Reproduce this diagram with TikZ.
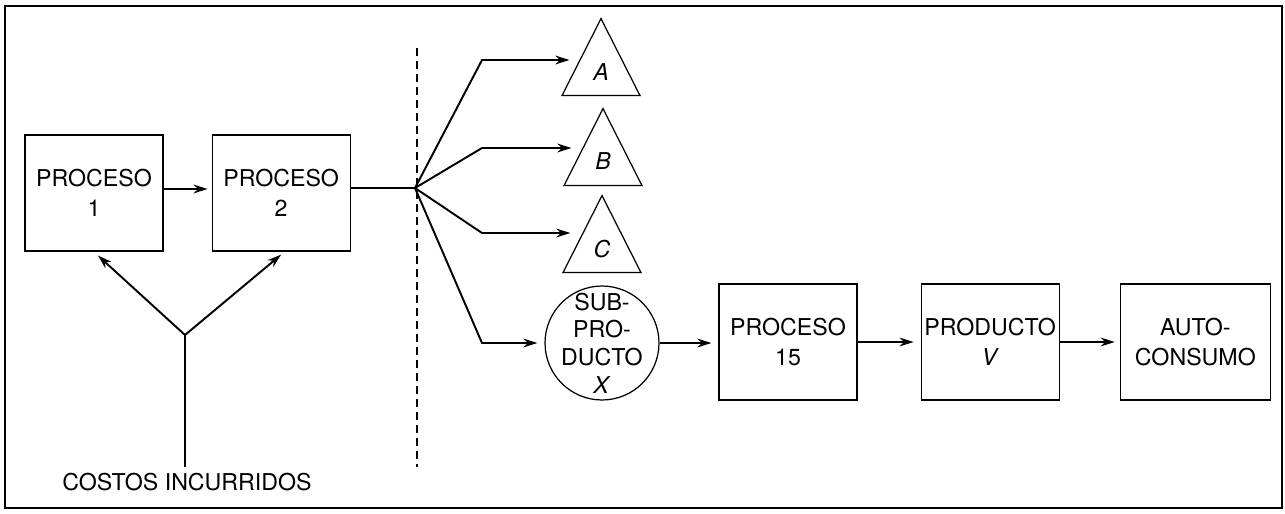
\documentclass[tikz,border=0pt]{standalone}
\usepackage{fontspec}
\setmainfont{TeX Gyre Heros}
\usepackage{tikz}
\usetikzlibrary{positioning}
\usetikzlibrary{calc}
\usetikzlibrary{arrows.meta}
\usetikzlibrary{shapes.geometric}

\begin{document}
\begin{tikzpicture}[x=0.02cm,y=-0.02cm,font=\fontsize{13.2}{17}\selectfont,
    box/.style={draw,line width=0.7pt,minimum width=2.76cm,minimum height=2.32cm,align=center,inner sep=0pt},
    tri/.style={draw,line width=0.7pt,isosceles triangle,shape border rotate=90,isosceles triangle stretches,
        minimum width=1.56cm,minimum height=1.54cm,inner sep=0pt,anchor=apex},
    sub/.style={draw,line width=0.7pt,circle,minimum size=2.28cm,inner sep=0pt},
    line/.style={line width=1.1pt},
    arr/.style={line width=1.1pt,-{Stealth[length=8pt,width=5pt]}},
    cut/.style={line width=0.6pt,dash pattern=on 0.16cm off 0.1cm}]

    \useasboundingbox (0,0) rectangle (1285,514);
    \draw[line width=1pt] (5,6) rectangle (1282,508);

    \node[box] (p1) at (94,193) {PROCESO\\1};
    \node[box,right=0.96cm of p1] (p2) {PROCESO\\2};

    \node (costos) at (187,482) {COSTOS INCURRIDOS};
    \coordinate (yj) at (185,335);

    \coordinate (dtop) at (417,48);
    \coordinate (dbot) at (417,467);
    \coordinate (jn) at (415,188);

    \coordinate (ka) at (482,60);
    \coordinate (kb) at (482,148);
    \coordinate (kc) at (482,233);
    \coordinate (kx) at (482,343);

    \node[tri] (A) at (601,17) {};
    \node[tri] (B) at (603,107) {};
    \node[tri] (C) at (602,194) {};
    \node[anchor=base] (la) at ([yshift=-1.28cm]A.apex) {\textit{A}};
    \node[anchor=base] (lb) at ([yshift=-1.26cm]B.apex) {\textit{B}};
    \node[anchor=base] (lc) at ([yshift=-1.28cm]C.apex) {\textit{C}};

    \node[sub,label={[align=center,font=\fontsize{13.2}{15.8}\selectfont]center:SUB-\\PRO-\\DUCTO\\\textit{X}}] (sx) at (602,343) {};

    \node[box] (p15) at (788,342) {PROCESO\\15};
    \node[box,right=1.26cm of p15] (pv) {PRODUCTO\\\textit{V}};
    \node[box,minimum width=3cm,right=1.2cm of pv] (auto) {AUTO-\\CONSUMO};

    \draw[arr,shorten >=0.08cm] (p1.east |- 0,189) -- (p2.west |- 0,189);
    \draw[line] (costos.north -| yj) -- (yj);
    \draw[arr] (yj) -- ([xshift=0.08cm,yshift=-0.08cm]p1.south);
    \draw[arr] (yj) -- ([yshift=-0.06cm]p2.south);

    \draw[cut] (dtop) -- (dbot);
    \draw[line] (p2.east |- jn) -- (jn);

    \draw[arr,shorten >=0.08cm] (jn) -- (ka) -- (ka -| A.west);
    \draw[arr,shorten >=0.08cm] (jn) -- (kb) -- (kb -| B.west);
    \draw[arr,shorten >=0.08cm] (jn) -- (kc) -- (kc -| C.west);
    \draw[arr,shorten >=0.14cm] (jn) -- (kx) -- (kx -| sx.west);

    \draw[arr,shorten >=0.14cm] (sx.east) -- (sx.east -| p15.west);
    \draw[arr,shorten >=0.14cm] (p15) -- (pv);
    \draw[arr,shorten >=0.1cm] (pv) -- (auto);
\end{tikzpicture}
\end{document}
